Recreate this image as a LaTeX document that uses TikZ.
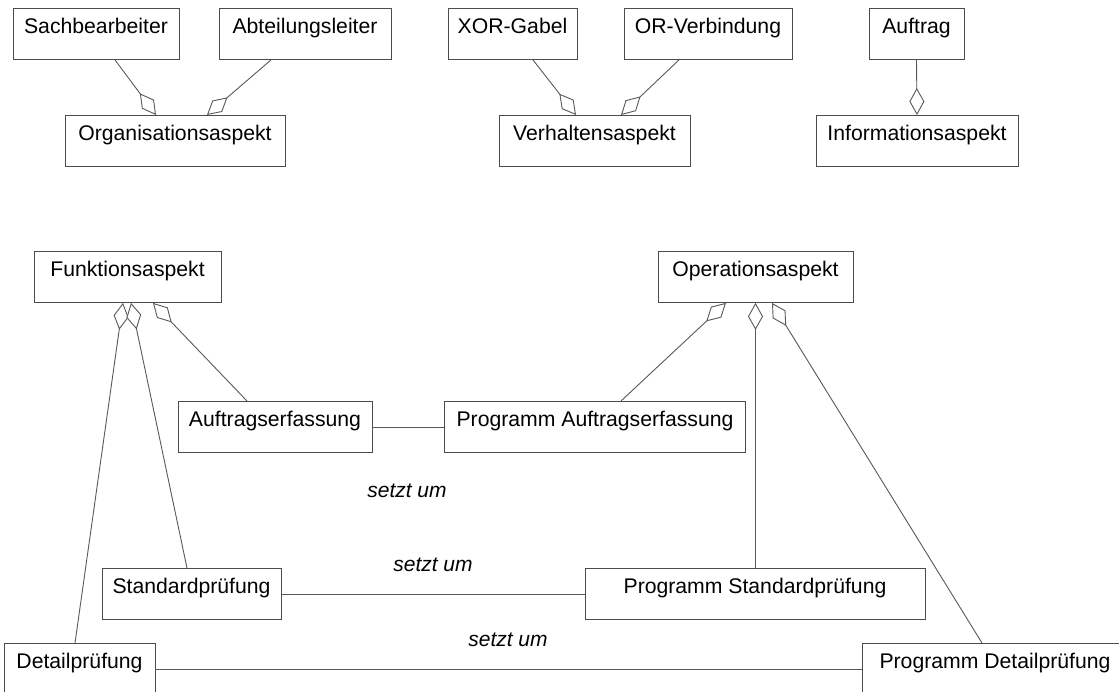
\documentclass[tikz,border=0pt]{standalone}
\usepackage{fontspec}
\usetikzlibrary{arrows.meta}
\newfontfamily\boxfont{Liberation Sans}
\tikzset{
  box/.style={draw=black!70, line width=0.9pt, fill=white, anchor=north,
    inner xsep=0pt, inner ysep=0pt, text height=25.5pt, text depth=25.5pt,
    font={\boxfont\fontsize{21.2}{25}\selectfont}},
  link/.style={draw=black!65, line width=0.9pt},
  agg/.style={link, -{Diamond[fill=white, length=27pt, width=15pt]}},
  relname/.style={font={\boxfont\itshape\fontsize{21}{25}\selectfont}, inner sep=0pt}
}
\begin{document}
\begin{tikzpicture}[x=1pt, y=-1pt]
\clip (0,0) rectangle (1119,691);
\fill[white] (0,0) rectangle (1119,691);

% upper row: aspects and their parts
\node[box, minimum width=166pt] (sach) at (96,8) {Sachbearbeiter};
\node[box, minimum width=172pt] (abt) at (305,8) {Abteilungsleiter};
\node[box, minimum width=220pt] (org) at (175,115) {Organisationsaspekt};

\node[box, minimum width=129pt] (xor) at (512.5,8) {XOR-Gabel};
\node[box, minimum width=168pt] (orv) at (708,8) {OR-Verbindung};
\node[box, minimum width=191pt] (verh) at (594.5,115) {Verhaltensaspekt};

\node[box, minimum width=95pt] (auftrag) at (916.5,8) {Auftrag};
\node[box, minimum width=202pt] (info) at (917,115) {Informationsaspekt};

\draw[agg] ([xshift=19pt]sach.south) -- ([xshift=-19pt]org.north);
\draw[agg] ([xshift=-34pt]abt.south) -- ([xshift=32pt]org.north);
\draw[agg] ([xshift=20.5pt]xor.south) -- ([xshift=-18.5pt]verh.north);
\draw[agg] ([xshift=-29pt]orv.south) -- ([xshift=26.5pt]verh.north);
\draw[agg] (auftrag.south) -- (info.north);

% lower part: functions and operations
\node[box, minimum width=187pt] (funk) at (127.5,251) {Funktionsaspekt};
\node[box, minimum width=195pt] (op) at (755.5,251) {Operationsaspekt};

\node[box, minimum width=194pt] (auf) at (275,401) {Auftragserfassung};
\node[box, minimum width=301pt] (pauf) at (595,401) {Programm Auftragserfassung};
\node[box, minimum width=179pt] (std) at (191.5,568) {Standardprüfung};
\node[box, minimum width=340pt] (pstd) at (755,568) {Programm Standardprüfung};
\node[box, minimum width=151pt] (det) at (79.5,643) {Detailprüfung};
\node[box, minimum width=266pt] (pdet) at (995,643) {Programm Detailprüfung};

\draw[agg] ([xshift=-4.5pt]det.north) -- ([xshift=-4.5pt]funk.south);
\draw[agg] ([xshift=-4.5pt]std.north) -- ([xshift=3.5pt]funk.south);
\draw[agg] ([xshift=-28pt]auf.north) -- ([xshift=25.5pt]funk.south);

\draw[agg] ([xshift=26pt]pauf.north) -- ([xshift=-29.5pt]op.south);
\draw[agg] (op.south |- pstd.north) -- (op.south);
\draw[agg] ([xshift=-13pt]pdet.north) -- ([xshift=16.5pt]op.south);

% realisation links
\draw[link] (auf.east) -- (pauf.west);
\draw[link] (std.east) -- (pstd.west);
\draw[link] (det.east) -- (pdet.west);

\node[relname] (r1) at (407,491) {setzt um};
\node[relname] (r2) at (433,565) {setzt um};
\node[relname] (r3) at (508,640) {setzt um};
\end{tikzpicture}
\end{document}
